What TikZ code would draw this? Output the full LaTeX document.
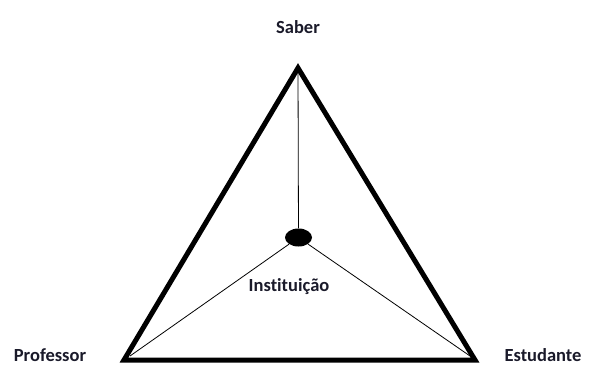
\documentclass[tikz,border=0pt]{standalone}
\usepackage{fontspec}
\setmainfont{Carlito}[Ligatures=NoCommon]
\usetikzlibrary{positioning,shapes.geometric}
\definecolor{txtdark}{HTML}{1A1A2A}

\begin{document}
\begin{tikzpicture}[x=1pt,y=-1pt,
    rotulo/.style={font=\fontsize{18.5}{22}\selectfont\bfseries,text=txtdark,inner sep=0pt},
    lado/.style={line width=5pt,line join=miter},
    ligacao/.style={line width=0.8pt}]
    \useasboundingbox (0,0) rectangle (592,369);
    % vertices do triangulo
    \coordinate (topo) at (298,68);
    \coordinate (esq) at (124,360);
    \coordinate (dir) at (475,360);
    \draw[lado] (topo) -- (esq) -- (dir) -- cycle;
    % instituicao no centro
    \node[ellipse,fill=black,minimum width=27pt,minimum height=18pt,inner sep=0pt] (centro) at (298.5,237.5) {};
    \draw[ligacao] (topo) -- (centro);
    \draw[ligacao] (centro) -- (130,356);
    \draw[ligacao] (centro) -- (470,356);
    % rotulos
    \node[rotulo] (saber) at (298,27) {Saber};
    \node[rotulo] (instituicao) at (289,287) {Instituição};
    \node[rotulo] (professor) at (50,355) {Professor};
    \node[rotulo] (estudante) at (543,355) {Estudante};
\end{tikzpicture}
\end{document}
